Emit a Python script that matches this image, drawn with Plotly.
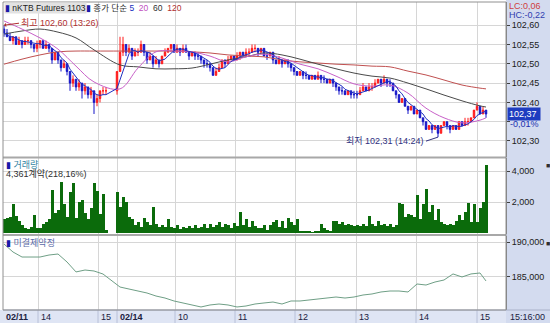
import numpy as np
import pandas as pd
import plotly.graph_objects as go

# ---------------- data ----------------
DAY1_BARS = 35   # 02/11 (from 13:25)
DAY2_BARS = 124  # 02/14

open_px = [102.59,102.58,102.57,102.56,102.57,102.55,102.56,102.55,102.56,102.56,102.55,102.54,102.55,102.56,102.54,102.55,102.54,102.51,102.53,102.51,102.49,102.50,102.48,102.45,102.46,102.44,102.45,102.43,102.44,102.42,102.43,102.40,102.41,102.43,102.43,
    102.43,102.48,102.53,102.55,102.53,102.54,102.52,102.53,102.53,102.55,
    102.53,102.51,102.52,102.50,102.51,102.50,102.52,102.53,102.54,102.55,
    102.53,102.54,102.53,102.54,102.53,102.52,102.53,102.52,102.52,102.51,
    102.50,102.50,102.49,102.47,102.48,102.49,102.51,102.50,102.51,102.52,
    102.51,102.52,102.53,102.52,102.53,102.53,102.54,102.54,102.53,102.54,
    102.52,102.52,102.53,102.51,102.50,102.51,102.50,102.51,102.50,102.49,
    102.48,102.47,102.48,102.47,102.47,102.46,102.47,102.46,102.47,102.46,
    102.46,102.45,102.46,102.45,102.44,102.43,102.43,102.42,102.43,102.42,
    102.42,102.42,102.43,102.44,102.43,102.44,102.44,102.45,102.46,102.45,
    102.46,102.45,102.45,102.43,102.42,102.40,102.41,102.39,102.38,102.39,
    102.37,102.38,102.36,102.35,102.33,102.34,102.33,102.34,102.32,102.34,
    102.35,102.34,102.33,102.34,102.33,102.35,102.34,102.35,102.35,102.36,
    102.38,102.39,102.37,102.38]
close_px = [102.58,102.57,102.56,102.57,102.55,102.56,102.55,102.56,102.56,102.55,102.54,102.55,102.56,102.54,102.55,102.54,102.51,102.53,102.51,102.49,102.50,102.48,102.45,102.46,102.44,102.45,102.43,102.44,102.42,102.43,102.40,102.41,102.43,102.43,102.43,
    102.48,102.53,102.55,102.53,102.54,102.52,102.53,102.53,102.55,102.53,
    102.51,102.52,102.50,102.51,102.50,102.52,102.53,102.54,102.55,102.53,
    102.54,102.53,102.54,102.53,102.52,102.53,102.52,102.52,102.51,102.50,
    102.50,102.49,102.47,102.48,102.49,102.51,102.50,102.51,102.52,102.51,
    102.52,102.53,102.52,102.53,102.53,102.54,102.54,102.53,102.54,102.52,
    102.52,102.53,102.51,102.50,102.51,102.50,102.51,102.50,102.49,102.48,
    102.47,102.48,102.47,102.47,102.46,102.47,102.46,102.47,102.46,102.46,
    102.45,102.46,102.45,102.44,102.43,102.43,102.42,102.43,102.42,102.42,
    102.42,102.43,102.44,102.43,102.44,102.44,102.45,102.46,102.45,102.46,
    102.45,102.45,102.43,102.42,102.40,102.41,102.39,102.38,102.39,102.37,
    102.38,102.36,102.35,102.33,102.34,102.33,102.34,102.32,102.34,102.35,
    102.34,102.33,102.34,102.33,102.35,102.34,102.35,102.35,102.36,102.38,
    102.39,102.37,102.38,102.37]
high_px = [102.60,102.59,102.58,102.57,102.57,102.57,102.56,102.57,102.57,102.56,102.55,102.56,102.56,102.56,102.56,102.55,102.54,102.53,102.53,102.51,102.51,102.50,102.48,102.47,102.46,102.46,102.45,102.45,102.44,102.44,102.43,102.42,102.43,102.44,102.44,
    102.48,102.57,102.57,102.55,102.55,102.54,102.54,102.54,102.56,102.55,
    102.53,102.53,102.52,102.52,102.51,102.52,102.54,102.54,102.55,102.55,
    102.55,102.54,102.55,102.55,102.53,102.53,102.53,102.53,102.52,102.51,
    102.51,102.50,102.49,102.49,102.50,102.51,102.51,102.52,102.52,102.52,
    102.53,102.53,102.53,102.54,102.54,102.55,102.55,102.54,102.54,102.54,
    102.53,102.53,102.53,102.51,102.52,102.51,102.51,102.51,102.50,102.49,
    102.48,102.48,102.48,102.48,102.47,102.47,102.47,102.48,102.47,102.47,
    102.46,102.46,102.46,102.45,102.44,102.44,102.43,102.43,102.43,102.43,
    102.43,102.44,102.45,102.44,102.45,102.45,102.46,102.46,102.46,102.47,
    102.46,102.46,102.45,102.43,102.42,102.41,102.41,102.39,102.39,102.39,
    102.38,102.38,102.36,102.35,102.34,102.34,102.34,102.34,102.34,102.35,
    102.35,102.34,102.34,102.34,102.35,102.35,102.36,102.36,102.36,102.38,
    102.40,102.39,102.39,102.38]
low_px = [102.57,102.57,102.56,102.55,102.55,102.55,102.54,102.55,102.55,102.54,102.53,102.53,102.54,102.54,102.54,102.53,102.50,102.51,102.50,102.48,102.49,102.47,102.43,102.44,102.43,102.43,102.41,102.42,102.41,102.41,102.37,102.39,102.40,102.42,102.42,
    102.42,102.48,102.52,102.52,102.53,102.51,102.52,102.52,102.53,102.52,
    102.50,102.51,102.49,102.50,102.49,102.50,102.52,102.53,102.53,102.53,
    102.53,102.52,102.53,102.53,102.51,102.52,102.51,102.51,102.50,102.49,
    102.49,102.48,102.47,102.47,102.48,102.49,102.49,102.50,102.51,102.51,
    102.51,102.51,102.52,102.52,102.52,102.53,102.53,102.52,102.53,102.52,
    102.51,102.52,102.50,102.50,102.50,102.49,102.50,102.49,102.48,102.47,
    102.47,102.47,102.46,102.46,102.46,102.46,102.46,102.46,102.45,102.45,
    102.45,102.45,102.44,102.43,102.42,102.42,102.42,102.42,102.41,102.41,
    102.41,102.42,102.43,102.43,102.43,102.43,102.44,102.45,102.44,102.45,
    102.44,102.44,102.43,102.41,102.40,102.40,102.39,102.37,102.38,102.37,
    102.37,102.36,102.34,102.33,102.33,102.32,102.33,102.31,102.32,102.34,
    102.33,102.32,102.33,102.33,102.33,102.34,102.34,102.34,102.35,102.36,
    102.38,102.37,102.37,102.36]
volume = [900,1000,1050,1900,1100,800,500,300,250,400,1150,350,300,600,700,900,2800,1300,1500,3300,1900,1050,2650,3200,1000,2000,2150,1300,900,1600,3200,2700,1200,2500,200,
    2650,1700,2300,2000,1050,900,500,700,400,1000,
    700,500,1680,600,400,500,400,900,400,300,
    500,250,400,350,450,350,500,300,400,550,
    350,600,400,500,700,400,550,500,350,650,
    450,1350,500,900,400,800,450,300,350,500,
    200,500,700,850,400,800,350,950,700,500,
    900,150,100,150,120,60,100,150,600,300,
    200,120,800,780,550,700,500,550,500,480,
    520,480,550,450,1080,550,450,780,500,600,
    450,600,400,500,1940,1850,1030,1250,1140,1030,
    2430,920,1890,2860,1350,1780,820,1570,700,600,
    500,600,500,780,1140,820,1350,1940,700,1850,
    700,1630,2000,4361]
# open interest, every 3rd bar + last bar
open_interest = [189750,188590,187860,187860,187860,188150,188300,187140,185690,185970,
    185830,185390,183500,183210,182920,182630,182190,181900,181470,181180,
    180890,180600,180890,181030,180890,180600,180740,181030,181180,181320,
    181030,181470,181470,181610,181760,181900,182050,181900,182050,182340,
    182490,182780,182920,182920,182780,183940,183790,184230,184520,185400,
    184960,185400,185540,184380]
# moving averages, every 6th bar + last bar
ma20 = [102.611,102.590,102.567,102.538,102.494,102.453,102.435,102.489,102.531,102.533,
    102.531,102.520,102.505,102.518,102.525,102.515,102.499,102.487,102.468,102.448,
    102.442,102.445,102.424,102.385,102.360,102.347,102.354,102.360]
ma60 = [102.577,102.585,102.590,102.582,102.567,102.536,102.497,102.492,102.487,102.487,
    102.489,102.499,102.510,102.518,102.528,102.523,102.512,102.499,102.487,102.476,
    102.468,102.463,102.450,102.435,102.419,102.404,102.391,102.388]
ma120 = [102.499,102.512,102.523,102.531,102.533,102.533,102.533,102.533,102.533,102.533,
    102.531,102.528,102.523,102.520,102.518,102.510,102.505,102.502,102.499,102.497,
    102.494,102.492,102.481,102.471,102.458,102.445,102.437,102.435]

time_tick_pos = [35, 95, 114, 172, 232, 292, 353, 413, 474]
time_labels = ["02/11", "14", "15", "02/14", "10", "11", "12", "13", "14", "15"]
time_label_pos = [0, 35, 95, 114, 172, 232, 292, 353, 413, 474]
price_ticks = [102.30, 102.35, 102.40, 102.45, 102.50, 102.55, 102.60]
price_labels = ["102,30", "", "102,40", "102,45", "102,50", "102,55", "102,60"]
vol_ticks = [2000, 4000]
vol_labels = ["2,000", "4,000"]
oi_ticks = [185000, 190000]
oi_labels = ["185,000", "190,000"]

# ---------------- layout geometry ----------------
W, H = 550, 323
ML, MR, MT, MB = 3, 44, 2, 13
PW, PH = W - ML - MR, H - MT - MB

x = np.concatenate([1 + 3 * np.arange(DAY1_BARS), 114 + 3 * np.arange(DAY2_BARS)])
ma5 = pd.Series(close_px).rolling(5, min_periods=1).mean()
idx_ma = list(range(0, len(x), 6)) + [len(x) - 1]
idx_oi = list(range(0, len(x), 3)) + [len(x) - 1]

FONT = "Liberation Sans, Noto Sans CJK KR, sans-serif"

fig = go.Figure()
fig.add_trace(go.Candlestick(
    x=x, open=open_px, high=high_px, low=low_px, close=close_px,
    increasing=dict(line=dict(color="#ff1a1a", width=1), fillcolor="#ff1a1a"),
    decreasing=dict(line=dict(color="#1414c8", width=1), fillcolor="#1414c8"),
    whiskerwidth=0, xaxis="x", yaxis="y", showlegend=False))
for ys, xs, col in [(ma120, x[idx_ma], "#c05050"), (ma60, x[idx_ma], "#4a4a4a"),
                    (ma20, x[idx_ma], "#c860c8")]:
    fig.add_trace(go.Scatter(x=xs, y=ys, mode="lines", line=dict(color=col, width=1, shape="spline"),
                             xaxis="x", yaxis="y", showlegend=False))
fig.add_trace(go.Scatter(x=x, y=ma5, mode="lines", line=dict(color="#2030c0", width=1),
                         xaxis="x", yaxis="y", showlegend=False))
fig.add_trace(go.Bar(x=x, y=volume, width=3, marker=dict(color="#0b6b0b", line=dict(width=0)),
                     xaxis="x2", yaxis="y2", showlegend=False))
fig.add_trace(go.Scatter(x=x[idx_oi], y=open_interest, mode="lines",
                         line=dict(color="#6f9f86", width=1), xaxis="x3", yaxis="y3", showlegend=False))

def px2paper_y(p):
    return (H - MB - p) / PH

d1 = [px2paper_y(157), 1.0]
d2 = [px2paper_y(234), px2paper_y(158)]
d3 = [0.0, px2paper_y(236)]

xcommon = dict(range=[0, PW], showticklabels=False, tickvals=time_tick_pos, showgrid=True,
               gridcolor="#d6d6d6", gridwidth=1, zeroline=False, ticks="", fixedrange=True)
ycommon = dict(side="right", showgrid=True, gridcolor="#d6d6d6", zeroline=False, ticks="outside",
               ticklen=3, tickcolor="#404040", tickfont=dict(size=9, color="#202020", family=FONT),
               showline=True, linecolor="#808080", linewidth=1)
fig.update_layout(
    width=W, height=H, margin=dict(l=ML, r=MR, t=MT, b=MB),
    paper_bgcolor="white", plot_bgcolor="white", bargap=0,
    font=dict(family=FONT, size=9),
    xaxis=dict(anchor="y", rangeslider=dict(visible=False), **xcommon),
    xaxis2=dict(anchor="y2", matches="x", **xcommon),
    xaxis3=dict(anchor="y3", matches="x", **xcommon),
    yaxis=dict(domain=d1, anchor="x", range=[102.2585, 102.6601], tickvals=price_ticks,
               ticktext=price_labels, **ycommon),
    yaxis2=dict(domain=d2, anchor="x2", range=[-65, 4839], tickvals=vol_ticks, ticktext=vol_labels, **ycommon),
    yaxis3=dict(domain=d3, anchor="x3", range=[180160, 190916], tickvals=oi_ticks, ticktext=oi_labels, **ycommon),
)

shapes = []
right_x1 = 1 + MR / PW
row_y0 = -MB / PH
# right axis background
shapes.append(dict(type="rect", xref="paper", yref="paper", x0=1, x1=right_x1, y0=row_y0, y1=1 + MT / PH,
                   fillcolor="#d3dbef", line=dict(width=0), layer="below"))
# bottom time row
shapes.append(dict(type="rect", xref="paper", yref="paper", x0=-ML / PW, x1=1, y0=row_y0, y1=0,
                   fillcolor="#dfe5f4", line=dict(width=0), layer="below"))
for tp in time_tick_pos:
    shapes.append(dict(type="line", xref="x3", yref="paper", x0=tp, x1=tp, y0=row_y0, y1=0,
                       line=dict(color="#b8c0d8", width=1)))
# panel separators
for yy in [px2paper_y(157.5), px2paper_y(235)]:
    shapes.append(dict(type="line", xref="paper", yref="paper", x0=0, x1=1, y0=yy, y1=yy,
                       line=dict(color="#a8a8a8", width=2)))
shapes.append(dict(type="line", xref="paper", yref="paper", x0=0, x1=right_x1, y0=0, y1=0,
                   line=dict(color="#a8b0c8", width=1)))
# frame
shapes.append(dict(type="rect", xref="paper", yref="paper", x0=0, x1=1, y0=0, y1=1,
                   line=dict(color="#909090", width=1)))
fig.update_layout(shapes=shapes)

ann = []
# header
ann.append(dict(xref="paper", yref="paper", x=0.002, y=1.0, xanchor="left", yanchor="top", showarrow=False,
                text="<span style='color:#1a1aa8'>▮</span> nKTB Futures 1103", bgcolor="#e2e2e2",
                font=dict(size=8.5, color="#202020"), borderpad=0))
ann.append(dict(xref="paper", yref="paper", x=(85 - ML) / PW, y=1.0, xanchor="left", yanchor="top", showarrow=False,
                text="<span style='color:#1a1aa8'>▮</span> 종가 단순 <span style='color:#2030c0'>5</span>  "
                     "<span style='color:#c050c0'>20</span>  <span style='color:#303030'>60</span>  "
                     "<span style='color:#b03030'>120</span>",
                font=dict(size=8.5, color="#303030"), borderpad=0))
# LC / HC
ann.append(dict(xref="paper", yref="paper", x=1.003, y=1 + MT / PH, xanchor="left", yanchor="top", showarrow=False,
                text="LC:0,06", font=dict(size=9, color="#d04040"), borderpad=0))
ann.append(dict(xref="paper", yref="paper", x=1.003, y=px2paper_y(9), xanchor="left", yanchor="top", showarrow=False,
                text="HC:-0,22", font=dict(size=9, color="#3040b0"), borderpad=0))
# current price
ann.append(dict(xref="paper", yref="y", x=1.001, y=close_px[-1], xanchor="left", yanchor="middle", showarrow=False,
                text="102,37 ", bgcolor="#1e3cc0", font=dict(size=9, color="white"), borderpad=1))
ann.append(dict(xref="paper", yref="y", x=1.004, y=close_px[-1] - 0.025, xanchor="left", yanchor="middle",
                showarrow=False, text="-0,01%", font=dict(size=9, color="#2030b0")))
# high / low marks
ann.append(dict(xref="x", yref="y", x=x[0], y=max(high_px), text="최고 102,60 (13:26)", showarrow=True,
                arrowhead=1, arrowsize=0.7, arrowwidth=1, arrowcolor="#b03030", ax=15, ay=-2,
                xanchor="left", font=dict(size=9, color="#b03030")))
lo_i = int(np.argmin(low_px))
ann.append(dict(xref="x", yref="y", x=x[lo_i], y=low_px[lo_i], text="최저 102,31 (14:24)", showarrow=True,
                arrowhead=0, arrowwidth=1, arrowcolor="#303080", ax=-12, ay=4,
                xanchor="right", font=dict(size=9, color="#303080")))
# panel labels
ann.append(dict(xref="paper", yref="paper", x=0.004, y=d2[1] - 0.001, xanchor="left", yanchor="top", showarrow=False,
                text="<span style='color:#1a1aa8'>▮</span> <span style='color:#2f7f9f'>거래량</span>",
                font=dict(size=9), borderpad=0))
ann.append(dict(xref="paper", yref="paper", x=0.004, y=d2[1] - 9 / PH, xanchor="left", yanchor="top", showarrow=False,
                text="4,361계약(218,16%)", font=dict(size=9, color="#303030"), borderpad=0))
ann.append(dict(xref="paper", yref="paper", x=0.004, y=d3[1] - 0.001, xanchor="left", yanchor="top", showarrow=False,
                text="<span style='color:#1a1aa8'>▮</span> <span style='color:#5a6aa8'>미결제약정</span>",
                font=dict(size=9), borderpad=0))
for yy in [d2[1] - 3 / PH, d3[1] - 3 / PH]:
    ann.append(dict(xref="paper", yref="paper", x=1.078, y=yy, xanchor="left", yanchor="top", showarrow=False,
                    text="■", font=dict(size=7, color="#303030"), borderpad=0))
# bottom time labels
for tp, tl in zip(time_label_pos, time_labels):
    bold = "/" in tl
    ann.append(dict(xref="x3", yref="paper", x=tp + 2, y=row_y0 / 2, xanchor="left", yanchor="middle",
                    showarrow=False, text=f"<b>{tl}</b>" if bold else tl,
                    font=dict(size=9, color="#202040"), borderpad=0))
ann.append(dict(xref="paper", yref="paper", x=1.006, y=row_y0 / 2, xanchor="left", yanchor="middle",
                showarrow=False, text="15:16:00", font=dict(size=9, color="#202040"), borderpad=0))
fig.update_layout(annotations=ann)

fig.write_html("out.html")
